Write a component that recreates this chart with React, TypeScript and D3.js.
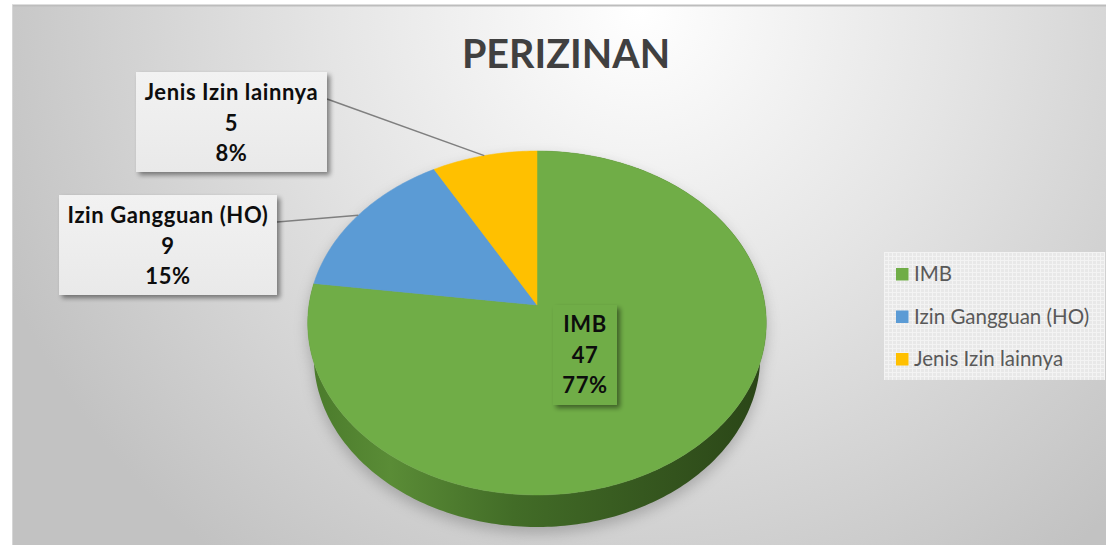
import React from "react";
import * as d3 from "d3";

const categories = ["IMB", "Izin Gangguan (HO)", "Jenis Izin lainnya"];
const values = [47, 9, 5];
const colors = ["#70AD47", "#5B9BD5", "#FFC000"];
const titleText = "PERIZINAN";

const W = 1107;
const H = 545;

// projection parameters of the tilted pie (perspective)
const CX = 537;
const CY = 305;
const FK = 228;
const SINA = 0.746;
const COSA = 0.666;
const K = 0.157;
const T = 0.228;

function proj(theta: number, h: number): [number, number] {
  const u = Math.sin(theta);
  const v = Math.cos(theta);
  const z = 1 + K * (v * COSA + h * T * SINA);
  const sx = CX + (FK * u) / z;
  const sy = CY - (FK * (v * SINA - h * T * COSA)) / z;
  return [sx, sy];
}

function rimPoints(a0: number, a1: number, h: number): [number, number][] {
  const n = Math.max(2, Math.ceil(((a1 - a0) * 180) / Math.PI));
  const pts: [number, number][] = [];
  for (let i = 0; i <= n; i++) pts.push(proj(a0 + ((a1 - a0) * i) / n, h));
  return pts;
}

const line = d3.line<[number, number]>();

const labelBoxes = [
  { x: 553, y: 305, w: 64, h: 100, cx: 585, base: 332, fill: "#70AD47" },
  { x: 59, y: 195, w: 218, h: 100, cx: 168, base: 223, fill: "url(#boxGrad)", lx: 277, ly: 222 },
  { x: 136, y: 72, w: 191, h: 100, cx: 231.5, base: 100, fill: "url(#boxGrad)", lx: 327, ly: 99 },
];

export default function App() {
  const total = d3.sum(values);
  const arcs = d3.pie<number>().sort(null).value((d) => d)(values);
  const pct = values.map((v) => d3.format(".0%")(v / total));

  const green = arcs[0];
  const wallTop = rimPoints(green.startAngle, green.endAngle, 0);
  const wallBot = rimPoints(green.startAngle, green.endAngle, 1).reverse();
  const wallPath = line([...wallTop, ...wallBot]) + "Z";
  const fullTop = line(rimPoints(0, Math.PI * 2, 0)) + "Z";
  const fullBot = line(rimPoints(Math.PI / 2, Math.PI * 1.5, 1)) + "Z";

  const legendY0 = 268;
  const legendStep = 42.5;

  return (
    <svg
      width={W}
      height={H}
      style={{ position: "absolute", left: 0, top: 0, display: "block" }}
      fontFamily="Lato, 'Open Sans', sans-serif"
    >
      <defs>
        <radialGradient id="bg" gradientUnits="userSpaceOnUse" cx={640} cy={10} r={690}>
          <stop offset="0" stopColor="#ffffff" />
          <stop offset="0.45" stopColor="#e5e5e5" />
          <stop offset="1" stopColor="#c2c2c2" />
        </radialGradient>
        <linearGradient id="wallGrad" gradientUnits="userSpaceOnUse" x1={308} x2={766} y1={0} y2={0}>
          <stop offset="0" stopColor="#4a7a2b" />
          <stop offset="0.18" stopColor="#5a8c36" />
          <stop offset="0.45" stopColor="#426c27" />
          <stop offset="0.8" stopColor="#33531d" />
          <stop offset="1" stopColor="#2a4517" />
        </linearGradient>
        <linearGradient id="boxGrad" x1="0" y1="0" x2="0" y2="1">
          <stop offset="0" stopColor="#f2f2f2" />
          <stop offset="1" stopColor="#e9e9e9" />
        </linearGradient>
        <filter id="blurShadow" x="-20%" y="-20%" width="140%" height="140%">
          <feGaussianBlur stdDeviation="7" />
        </filter>
        <filter id="boxShadow" x="-20%" y="-20%" width="140%" height="140%">
          <feGaussianBlur in="SourceAlpha" stdDeviation="2.5" />
          <feOffset dx="3" dy="3" result="ob" />
          <feComponentTransfer>
            <feFuncA type="linear" slope="0.45" />
          </feComponentTransfer>
          <feMerge>
            <feMergeNode />
            <feMergeNode in="SourceGraphic" />
          </feMerge>
        </filter>
        <pattern id="grid" width="4" height="4" patternUnits="userSpaceOnUse">
          <rect width="4" height="4" fill="#e8e8e8" />
          <path d="M0 0.5H4M0.5 0V4" stroke="#f3f3f3" strokeWidth="1" />
        </pattern>
      </defs>

      <rect x={0} y={0} width={W} height={H} fill="#ffffff" />
      <rect x={12} y={5} width={W - 13} height={H - 5} fill="url(#bg)" />
      <line x1={12} x2={W - 1} y1={5.5} y2={5.5} stroke="#bdbdbd" strokeWidth={2} />
      <line x1={12.5} x2={12.5} y1={5} y2={H} stroke="#d6d6d6" strokeWidth={1} />

      <text x={566} y={68} textAnchor="middle" fontWeight="bold" fontSize={39.5} fill="#404040">
        {titleText}
      </text>

      {/* pie shadow */}
      <g filter="url(#blurShadow)" opacity={0.35} transform="translate(0 6)">
        <path d={fullTop} fill="#555" />
        <path d={fullBot} fill="#555" />
        <path d={wallPath} fill="#555" />
      </g>

      {/* side wall */}
      <path d={wallPath} fill="url(#wallGrad)" />

      {/* top faces */}
      {arcs.map((a, i) => {
        const rim = rimPoints(a.startAngle, a.endAngle, 0);
        return (
          <path key={i} d={line([[CX, CY], ...rim]) + "Z"} fill={colors[i]} stroke={colors[i]} strokeWidth={0.5} />
        );
      })}

      {/* leader lines */}
      {arcs.map((a, i) => {
        const b = labelBoxes[i] as any;
        if (b.lx === undefined) return null;
        const mid = (a.startAngle + a.endAngle) / 2;
        const [px, py] = proj(mid, 0);
        return <line key={i} x1={b.lx} y1={b.ly} x2={px} y2={py} stroke="#7f7f7f" strokeWidth={1.5} />;
      })}

      {/* data labels */}
      {labelBoxes.map((b, i) => (
        <g key={i}>
          <rect x={b.x} y={b.y} width={b.w} height={b.h} fill={b.fill} filter="url(#boxShadow)" />
          <text textAnchor="middle" fontWeight="bold" fontSize={22} letterSpacing={0.6} fill="#0d0d0d">
            <tspan x={b.cx} y={b.base}>{categories[i]}</tspan>
            <tspan x={b.cx} y={b.base + 31}>{values[i]}</tspan>
            <tspan x={b.cx} y={b.base + 61}>{pct[i]}</tspan>
          </text>
        </g>
      ))}

      {/* legend */}
      <rect x={884} y={252} width={221} height={128} fill="url(#grid)" />
      {categories.map((c, i) => (
        <g key={c}>
          <rect x={896} y={legendY0 + i * legendStep} width={12.5} height={12.5} fill={colors[i]} />
          <text x={914} y={legendY0 + 13 + i * legendStep} fontSize={20.5} fill="#595959">
            {c}
          </text>
        </g>
      ))}
    </svg>
  );
}
